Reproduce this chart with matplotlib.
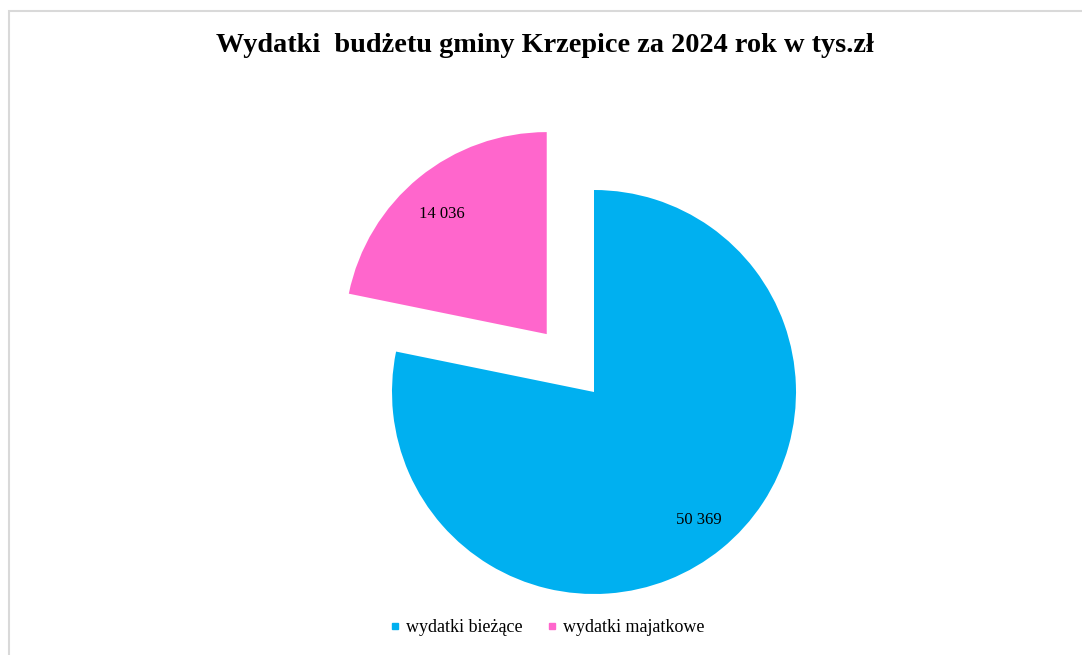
import matplotlib
matplotlib.use("Agg")
import matplotlib.pyplot as plt
from matplotlib.lines import Line2D
from matplotlib.patches import Rectangle

categories = ["wydatki bieżące", "wydatki majatkowe"]
values = [50369, 14036]
value_labels = ["50 369", "14 036"]
colors = ["#00B0F0", "#FF66CC"]
explode = [0.0, 0.37]
title = "Wydatki  budżetu gminy Krzepice za 2024 rok w tys.zł"

plt.rcParams['font.family'] = ['Liberation Serif', 'DejaVu Serif']

W, H = 1082, 655
fig = plt.figure(figsize=(W / 100, H / 100), dpi=100)
fig.patch.set_facecolor("white")

# border
fig.add_artist(Rectangle((9 / W, -0.1), 1.2, 1 - 11 / H + 0.1, transform=fig.transFigure,
                         fill=False, edgecolor="#D9D9D9", linewidth=1.5))

cx, cy, R = 594, 392, 202
S = 280
ax = fig.add_axes([(cx - S) / W, (H - cy - S) / H, 2 * S / W, 2 * S / H])
wedges, texts = ax.pie(values, colors=colors, explode=explode, startangle=90,
                       counterclock=False, radius=1.0,
                       labels=value_labels, labeldistance=0.82,
                       textprops=dict(fontsize=12, color="black"),
                       wedgeprops=dict(linewidth=0))
for t in texts:
    t.set_ha("center")
    t.set_va("center")
texts[1].set_position((texts[1].get_position()[0], texts[1].get_position()[1] - 0.04))
ax.set_xlim(-S / R, S / R)
ax.set_ylim(-S / R, S / R)
ax.set_aspect("equal")
ax.axis("off")

fig.text(545 / W, 1 - 45 / H, title, ha="center", va="center",
         fontsize=20.3, fontweight="bold")

handles = [Line2D([], [], marker="s", linestyle="none", markersize=5,
                  markerfacecolor=c, markeredgecolor=c) for c in colors]
fig.legend(handles, categories, loc="center", bbox_to_anchor=(547 / W, 1 - 628 / H),
           ncol=2, frameon=False, fontsize=13, handlelength=0.6,
           handletextpad=0.3, columnspacing=1.3)

fig.savefig("out.png", dpi=100, facecolor="white")
